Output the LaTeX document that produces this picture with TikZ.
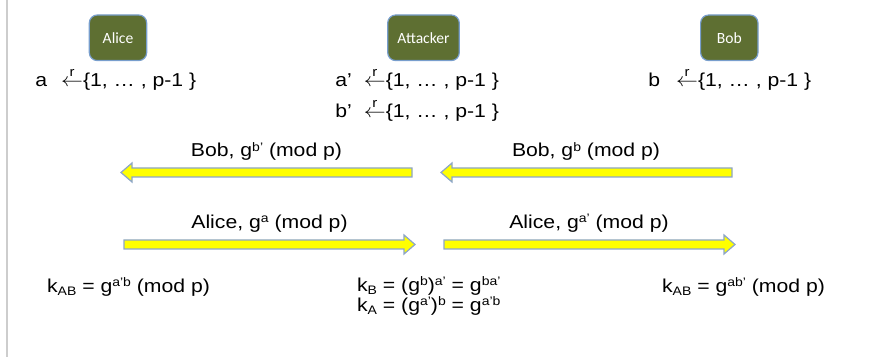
\documentclass[tikz,border=0pt]{standalone}
\usepackage{amsmath}
\usepackage{fontspec}
\setmainfont{Liberation Sans}
\newfontfamily\boxfont{Carlito}
\definecolor{partyfill}{RGB}{94,111,50}
\definecolor{partyedge}{RGB}{120,158,205}
\definecolor{msgfill}{RGB}{255,255,0}
\definecolor{msgedge}{RGB}{140,165,200}
\definecolor{sideline}{RGB}{205,205,205}
\newcommand{\pickr}{$\overset{\text{r}}{\leftarrow}$}
\newcommand{\sups}[1]{\raisebox{0.3em}{\fontsize{7}{8}\selectfont #1}}
\newcommand{\subs}[1]{\raisebox{-0.17em}{\fontsize{7}{8}\selectfont #1}}

\begin{document}
\begin{tikzpicture}[x=0.5pt, y=-0.5pt,
    party/.style={rounded corners=4pt, fill=partyfill, draw=partyedge, line width=0.6pt,
      text=white, font=\boxfont\fontsize{7.8}{9}\selectfont,
      minimum width=28.7pt, minimum height=22.8pt, inner sep=0pt},
    txt/.style={inner sep=0pt, font=\fontsize{10.6}{12}\selectfont, yscale=0.88, transform shape},
    fat arrow/.pic={
      \draw[draw=msgedge, fill=msgfill, line width=0.6pt, line join=miter]
        (0,-4.5) -- (280,-4.5) -- (280,-9.5) -- (291,0) -- (280,9.5) -- (280,4.5) -- (0,4.5) -- cycle;
    }]
  \useasboundingbox (0,0) rectangle (886,357);
  \draw[sideline, line width=1pt] (7,0) -- (7,357);

  % parties
  \node[party] (alice) at (118,37.8) {Alice};
  \node[party, minimum width=35.8pt] (attacker) at (423.5,37.8) {Attacker};
  \node[party] (bob) at (729.3,37.8) {Bob};

  % random choices
  \node[txt, anchor=base west] (pa) at (35,87) {a\hspace{7pt}\pickr\{1, … , p-1 \}};
  \node[txt, anchor=base west] (pa2) at (335,87) {a’\hspace{6pt}\pickr\{1, … , p-1 \}};
  \node[txt, anchor=base west] (pb2) at (335,118) {b’\hspace{6pt}\pickr\{1, … , p-1 \}};
  \node[txt, anchor=base west] (pb) at (648,87) {b\hspace{8pt}\pickr\{1, … , p-1 \}};

  % messages
  \pic[rotate=180] at (412,172.5) {fat arrow};
  \pic[rotate=180] at (732,172.5) {fat arrow};
  \pic at (124,244.5) {fat arrow};
  \pic at (444,244.5) {fat arrow};
  \node[txt, anchor=base] (mb2) at (266.5,157) {Bob, g\sups{b’} (mod p)};
  \node[txt, anchor=base] (mb) at (586,157) {Bob, g\sups{b} (mod p)};
  \node[txt, anchor=base] (ma) at (269.5,228.5) {Alice, g\sups{a} (mod p)};
  \node[txt, anchor=base] (ma2) at (589,228.5) {Alice, g\sups{a’} (mod p)};

  % keys
  \node[txt, anchor=base west] (kal) at (46.7,292) {k\subs{AB} = g\sups{a’b} (mod p)};
  \node[txt, anchor=base west] (kb) at (356.7,291) {k\subs{B} = (g\sups{b})\sups{a’} = g\sups{ba’}};
  \node[txt, anchor=base west] (ka) at (356.7,311) {k\subs{A} = (g\sups{a’})\sups{b} = g\sups{a’b}};
  \node[txt, anchor=base west] (kbo) at (661.7,292) {k\subs{AB} = g\sups{ab’} (mod p)};
\end{tikzpicture}
\end{document}
